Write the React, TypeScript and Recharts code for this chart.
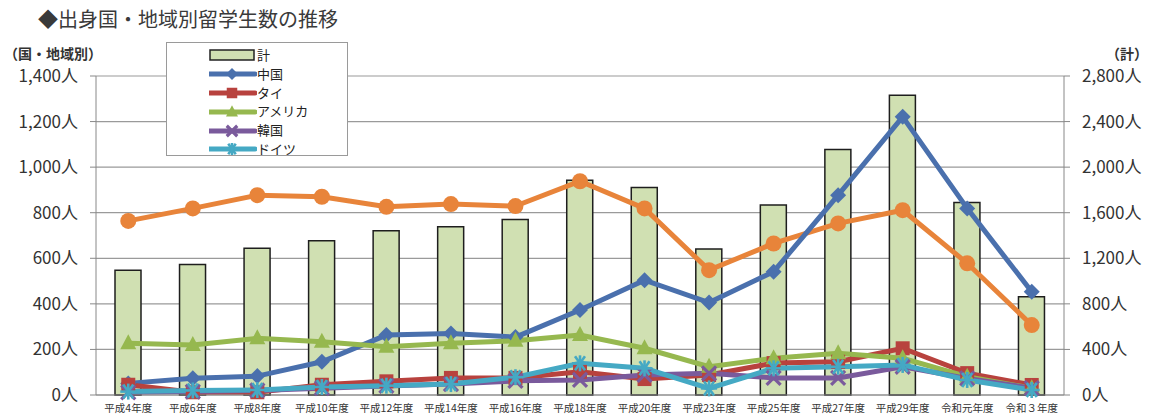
import {
  ComposedChart, Bar, Line, XAxis, YAxis, CartesianGrid, Legend,
} from 'recharts';

const categories = ['平成4年度', '平成6年度', '平成8年度', '平成10年度', '平成12年度', '平成14年度', '平成16年度', '平成18年度', '平成20年度', '平成23年度', '平成25年度', '平成27年度', '平成29年度', '令和元年度', '令和３年度'];
const total = [1096, 1146, 1287, 1353, 1441, 1476, 1541, 1886, 1822, 1281, 1667, 2155, 2632, 1690, 862];
const other = [764, 819, 877, 870, 826, 838, 829, 938, 819, 548, 665, 753, 811, 578, 307];
const china = [51, 73, 83, 146, 263, 270, 254, 373, 504, 406, 541, 877, 1221, 819, 453];
const thai = [45, 12, 12, 45, 60, 75, 75, 102, 70, 88, 140, 146, 205, 96, 44];
const usa = [227, 219, 249, 234, 212, 227, 238, 263, 205, 124, 161, 183, 161, 80, 30];
const korea = [12, 15, 20, 30, 40, 48, 62, 66, 88, 95, 75, 75, 124, 73, 30];
const germany = [15, 20, 22, 35, 41, 48, 78, 139, 117, 29, 117, 124, 132, 66, 22];

const leftTicks = [0, 200, 400, 600, 800, 1000, 1200, 1400];
const rightTicks = [0, 400, 800, 1200, 1600, 2000, 2400, 2800];
const boundaryTicks = [0, 1, 2, 3, 4, 5, 6, 7, 8, 9, 10, 11, 12, 13, 14, 15];

const data = categories.map((name, i) => ({
  name,
  total: total[i],
  other: other[i],
  china: china[i],
  thai: thai[i],
  usa: usa[i],
  korea: korea[i],
  germany: germany[i],
}));

const FONT = '"Noto Sans CJK JP", "Noto Sans", sans-serif';
const C_CHINA = '#4a70ad';
const C_THAI = '#b8423e';
const C_USA = '#96b84f';
const C_KOREA = '#7a5a9c';
const C_GER = '#45a9c4';
const C_OTHER = '#e8843a';
const C_BAR = '#d0e0b2';

type Mk = 'diamond' | 'square' | 'triangle' | 'x' | 'star' | 'circle';

const marker = (kind: Mk, color: string, cx: number, cy: number, key?: any, s = 1) => {
  if (cx == null || cy == null) return null;
  switch (kind) {
    case 'diamond':
      return <polygon key={key} points={`${cx},${cy - 8 * s} ${cx + 8 * s},${cy} ${cx},${cy + 8 * s} ${cx - 8 * s},${cy}`} fill={color} />;
    case 'square':
      return <rect key={key} x={cx - 7 * s} y={cy - 7 * s} width={14 * s} height={14 * s} fill={color} />;
    case 'triangle':
      return <polygon key={key} points={`${cx},${cy - 9 * s} ${cx + 8 * s},${cy + 6 * s} ${cx - 8 * s},${cy + 6 * s}`} fill={color} />;
    case 'x':
      return (
        <g key={key} stroke={color} strokeWidth={3.2}>
          <line x1={cx - 7 * s} y1={cy - 7 * s} x2={cx + 7 * s} y2={cy + 7 * s} />
          <line x1={cx - 7 * s} y1={cy + 7 * s} x2={cx + 7 * s} y2={cy - 7 * s} />
        </g>
      );
    case 'star':
      return (
        <g key={key} stroke={color} strokeWidth={2.6}>
          <line x1={cx - 8 * s} y1={cy} x2={cx + 8 * s} y2={cy} />
          <line x1={cx - 5 * s} y1={cy - 7 * s} x2={cx + 5 * s} y2={cy + 7 * s} />
          <line x1={cx - 5 * s} y1={cy + 7 * s} x2={cx + 5 * s} y2={cy - 7 * s} />
          <line x1={cx} y1={cy - 8 * s} x2={cx} y2={cy + 8 * s} />
        </g>
      );
    default:
      return <circle key={key} cx={cx} cy={cy} r={8 * s} fill={color} />;
  }
};

const dotOf = (kind: Mk, color: string) => (p: any) => marker(kind, color, p.cx, p.cy, p.key ?? p.index);

const legendItems: { name: string; color: string; kind: Mk }[] = [
  { name: '中国', color: C_CHINA, kind: 'diamond' },
  { name: 'タイ', color: C_THAI, kind: 'square' },
  { name: 'アメリカ', color: C_USA, kind: 'triangle' },
  { name: '韓国', color: C_KOREA, kind: 'x' },
  { name: 'ドイツ', color: C_GER, kind: 'star' },
];

const LegendBox = () => (
  <div style={{ width: 182, height: 114, border: '1px solid #9a9a9a', background: '#fff', boxSizing: 'border-box', padding: '3px 0 0 42px', fontFamily: FONT, fontSize: 13, color: '#222', lineHeight: '18.8px' }}>
    <div style={{ display: 'flex', alignItems: 'center', height: 18.8 }}>
      <svg width={48} height={14}><rect x={1} y={2} width={44} height={10} fill={C_BAR} stroke="#222" strokeWidth={1.5} /></svg>
      <span>計</span>
    </div>
    {legendItems.map((it) => (
      <div key={it.name} style={{ display: 'flex', alignItems: 'center', height: 18.8 }}>
        <svg width={48} height={16}>
          <line x1={0} y1={8} x2={46} y2={8} stroke={it.color} strokeWidth={5} strokeLinecap="round" />
          {marker(it.kind, it.color, 23, 8, undefined, 0.75)}
        </svg>
        <span>{it.name}</span>
      </div>
    ))}
  </div>
);

export default function App() {
  return (
    <div style={{ position: 'absolute', left: 0, top: 0, width: 1160, height: 419, background: '#fff', fontFamily: FONT }}>
      <div style={{ position: 'absolute', left: 38, top: 6, fontSize: 20, lineHeight: '26px', color: '#3a3a3a' }}>◆出身国・地域別留学生数の推移</div>
      <div style={{ position: 'absolute', left: 4, top: 44, fontSize: 14, lineHeight: '18px', fontWeight: 'bold', color: '#333' }}>（国・地域別）</div>
      <div style={{ position: 'absolute', left: 1106, top: 44, fontSize: 14, lineHeight: '18px', fontWeight: 'bold', color: '#333' }}>（計）</div>
      <ComposedChart width={1160} height={419} data={data} margin={{ top: 76, right: 0, bottom: 0, left: 0 }} style={{ position: 'absolute', left: 0, top: 0 }}>
        <CartesianGrid yAxisId="left" vertical={false} stroke="#9a9a9a" strokeWidth={1.2} />
        <XAxis xAxisId="grid" type="number" domain={[0, 15]} ticks={boundaryTicks} height={0} tick={false} axisLine={false} tickLine={{ stroke: '#888' }} tickSize={5} />
        <XAxis dataKey="name" height={24} interval={0} tickLine={false} axisLine={{ stroke: '#888' }} tick={{ fontSize: 10.5, fill: '#333', fontFamily: FONT }} tickMargin={4} />
        <YAxis yAxisId="left" width={96} domain={[0, 1400]} ticks={leftTicks} tickFormatter={(v) => `${v.toLocaleString('en-US')}人`} tick={{ fontSize: 17, fill: '#333', fontFamily: FONT }} tickSize={6} tickMargin={12} axisLine={{ stroke: '#888' }} tickLine={{ stroke: '#888' }} />
        <YAxis yAxisId="right" orientation="right" width={96} domain={[0, 2800]} ticks={rightTicks} tickFormatter={(v) => `${v.toLocaleString('en-US')}人`} tick={{ fontSize: 17, fill: '#333', fontFamily: FONT, textAnchor: 'start' }} tickSize={6} tickMargin={12} axisLine={{ stroke: '#888' }} tickLine={{ stroke: '#888' }} />
        <Legend layout="horizontal" verticalAlign="middle" align="center" content={<LegendBox />} wrapperStyle={{ position: 'absolute', left: 166, top: 42, width: 182, height: 114 }} />
        <Bar yAxisId="right" dataKey="total" name="計" barSize={26} fill={C_BAR} stroke="#1e1e1e" strokeWidth={1.5} isAnimationActive={false} />
        <Line yAxisId="left" dataKey="other" name="その他" stroke={C_OTHER} strokeWidth={5} dot={dotOf('circle', C_OTHER)} isAnimationActive={false} legendType="none" />
        <Line yAxisId="left" dataKey="china" name="中国" stroke={C_CHINA} strokeWidth={5} dot={dotOf('diamond', C_CHINA)} isAnimationActive={false} />
        <Line yAxisId="left" dataKey="thai" name="タイ" stroke={C_THAI} strokeWidth={5} dot={dotOf('square', C_THAI)} isAnimationActive={false} />
        <Line yAxisId="left" dataKey="usa" name="アメリカ" stroke={C_USA} strokeWidth={5} dot={dotOf('triangle', C_USA)} isAnimationActive={false} />
        <Line yAxisId="left" dataKey="korea" name="韓国" stroke={C_KOREA} strokeWidth={5} dot={dotOf('x', C_KOREA)} isAnimationActive={false} />
        <Line yAxisId="left" dataKey="germany" name="ドイツ" stroke={C_GER} strokeWidth={5} dot={dotOf('star', C_GER)} isAnimationActive={false} />
      </ComposedChart>
    </div>
  );
}
